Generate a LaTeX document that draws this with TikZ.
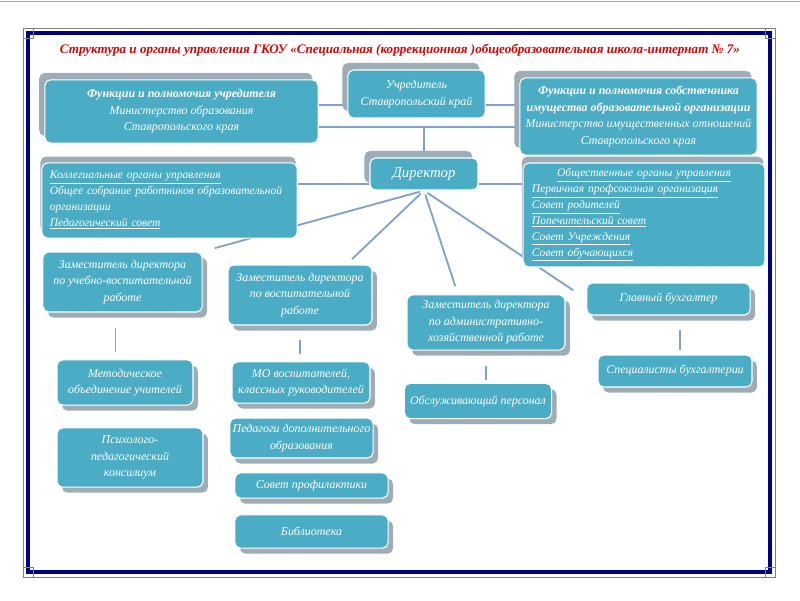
\documentclass[tikz,border=0pt]{standalone}
\usepackage{fontspec}
\setmainfont{Liberation Serif}
\usetikzlibrary{calc,positioning,shadows,backgrounds}
\definecolor{boxblue}{RGB}{75,172,198}
\definecolor{shgray}{RGB}{158,172,182}
\definecolor{linkblue}{RGB}{128,160,205}
\definecolor{titlered}{RGB}{220,0,0}
\definecolor{framenavy}{RGB}{0,0,128}

\begin{document}
\begin{tikzpicture}[x=0.025cm, y=-0.025cm,
    box/.style={fill=boxblue, draw=white, line width=0.8pt, rounded corners=4pt,
      text=white, align=center, inner sep=2pt,
      font=\itshape\fontsize{8.5}{11.8}\selectfont},
    listbox/.style={box, align=left, font=\itshape\fontsize{8.2}{11.3}\selectfont},
    shul/.style={general shadow={fill=shgray, shadow xshift=-4pt, shadow yshift=5pt}},
    shup/.style={general shadow={fill=shgray, shadow xshift=-1pt, shadow yshift=4.5pt}},
    shdr/.style={general shadow={fill=shgray, shadow xshift=3.5pt, shadow yshift=-4pt}},
    link/.style={draw=linkblue, line width=1.3pt},
  ]
  \useasboundingbox (0,0) rectangle (800,600);
  % frame
  \draw[gray!70, line width=0.8pt] (0,1.5) -- (800,1.5);
  \draw[gray, line width=0.5pt] (23,28) rectangle (775,577);
  \draw[framenavy, line width=3.5pt] (28,33) rectangle (770,572);
  \foreach \cx/\cy in {28/33, 770/33, 28/572, 770/572}
    \draw[gray, line width=0.5pt] (\cx-5,\cy-5) rectangle (\cx+5,\cy+5);

  \node[font=\bfseries\itshape\fontsize{9.3}{11}\selectfont, text=titlered] (title) at (400,50)
    {Структура и органы управления ГКОУ «Специальная (коррекционная )общеобразовательная школа-интернат № 7»};

  % top row
  \node[box, shul, minimum width=6.83cm, minimum height=1.58cm] (ufunc) at (181.5,111.5)
    {\textbf{Функции и полномочия учредителя}\\Министерство образования\\Ставропольского края};
  \node[box, shul, minimum width=3.43cm, minimum height=1.2cm] (uchr) at (416.5,94)
    {Учредитель\\Ставропольский край};
  \node[box, shul, minimum width=5.93cm, minimum height=1.93cm] (sfunc) at (638.5,116.5)
    {\textbf{Функции и полномочия собственника}\\\textbf{имущества образовательной организации}\\Министерство имущественных отношений\\Ставропольского края};
  \node[box, shul, font=\itshape\fontsize{10.5}{12}\selectfont,
    minimum width=2.7cm, minimum height=0.8cm] (dir) at (424,174) {Директор};
  \node[listbox, shup, inner xsep=0.2cm, text width=5.98cm,
    minimum height=1.88cm] (kolleg) at (169.5,200.5)
    {\underline{Коллегиальные органы управления}\\Общее собрание работников образовательной\\организации\\\underline{Педагогический совет}};
  \node[listbox, shup, inner xsep=0.22cm, text width=5.6cm,
    minimum height=2.6cm] (obsch) at (644,215)
    {\makebox[\linewidth]{\underline{Общественные органы управления}}\\
     \underline{Первичная профсоюзная организация}\\
     \underline{Совет родителей}\\
     \underline{Попечительский совет}\\
     \underline{Совет Учреждения}\\
     \underline{Совет обучающихся}};

  % deputies
  \node[box, shdr, minimum width=3.98cm, minimum height=1.5cm] (zam1) at (122.5,282)
    {Заместитель директора\\по учебно-воспитательной\\работе};
  \node[box, shdr, minimum width=3.6cm, minimum height=1.5cm] (zam2) at (300,295)
    {Заместитель директора\\по воспитательной\\работе};
  \node[box, shdr, minimum width=3.95cm, minimum height=1.38cm] (zam3) at (486,322.5)
    {Заместитель директора\\по административно-\\хозяйственной работе};
  \node[box, shdr, minimum width=4.08cm, minimum height=0.8cm] (gbuh) at (668.5,299)
    {Главный бухгалтер};

  % lower units
  \node[box, shdr, minimum width=3.4cm, minimum height=1.13cm] (metod) at (125,382.5)
    {Методическое\\объединение учителей};
  \node[box, shdr, minimum width=3.65cm, minimum height=1.48cm] (psych) at (130,457.5)
    {Психолого-\\педагогический\\консилиум};
  \node[box, shdr, minimum width=3.45cm, minimum height=1.03cm] (mo) at (301,382.5)
    {МО воспитателей,\\классных руководителей};
  \node[box, shdr, minimum width=3.58cm, minimum height=1cm] (pedag) at (301.5,438)
    {Педагоги дополнительного\\образования};
  \node[box, shdr, minimum width=3.83cm, minimum height=0.63cm] (sovet) at (311.5,485.5)
    {Совет профилактики};
  \node[box, shdr, minimum width=3.83cm, minimum height=0.83cm] (bibl) at (311.5,531.5)
    {Библиотека};
  \node[box, shdr, minimum width=3.68cm, minimum height=0.88cm] (obsl) at (478,401)
    {Обслуживающий персонал};
  \node[box, shdr, minimum width=3.85cm, minimum height=0.8cm] (spec) at (675,371)
    {Специалисты бухгалтерии};

  \coordinate (junc) at (424,127);
  \begin{scope}[on background layer]
    \draw[link] ([yshift=-7.8pt]uchr.west) -- ([yshift=-7.8pt]uchr.west -| ufunc.east);
    \draw[link] ([yshift=-7.8pt]uchr.east) -- ([yshift=-7.8pt]uchr.east -| sfunc.west);
    \draw[link] (junc -| ufunc.east) -- (junc -| sfunc.west);
    \draw[link] (junc) -- (dir.north);
    \draw[link] ([yshift=-7pt]dir.west) -- ([yshift=-7pt]dir.west -| kolleg.east);
    \draw[link] ([yshift=-7pt]dir.east) -- ([yshift=-7pt]dir.east -| obsch.west);
    \draw[link, shorten <=3pt, shorten >=9pt] (dir.south) -- (zam1.north east);
    \draw[link, shorten <=3pt, shorten >=5.5pt] (dir.south) -- ([xshift=33pt]zam2.north);
    \draw[link, shorten <=3pt, shorten >=6pt] (dir.south) -- ([xshift=-20pt]zam3.north);
    \draw[link, shorten <=3pt, shorten >=11pt] (dir.south) -- (gbuh.west);
    \draw[link, shorten <=11pt, shorten >=5.5pt] ([xshift=-5pt]zam1.south) -- ([xshift=-5pt]zam1.south |- metod.north);
    \draw[link, shorten <=10.6pt, shorten >=5pt] (zam2.south) -- (zam2.south |- mo.north);
    \draw[link, shorten <=10.6pt, shorten >=2pt] (zam3.south) -- (zam3.south |- obsl.north);
    \draw[link, shorten <=10.6pt, shorten >=3.5pt] ([xshift=8pt]gbuh.south) -- ([xshift=8pt]gbuh.south |- spec.north);
  \end{scope}
\end{tikzpicture}
\end{document}
